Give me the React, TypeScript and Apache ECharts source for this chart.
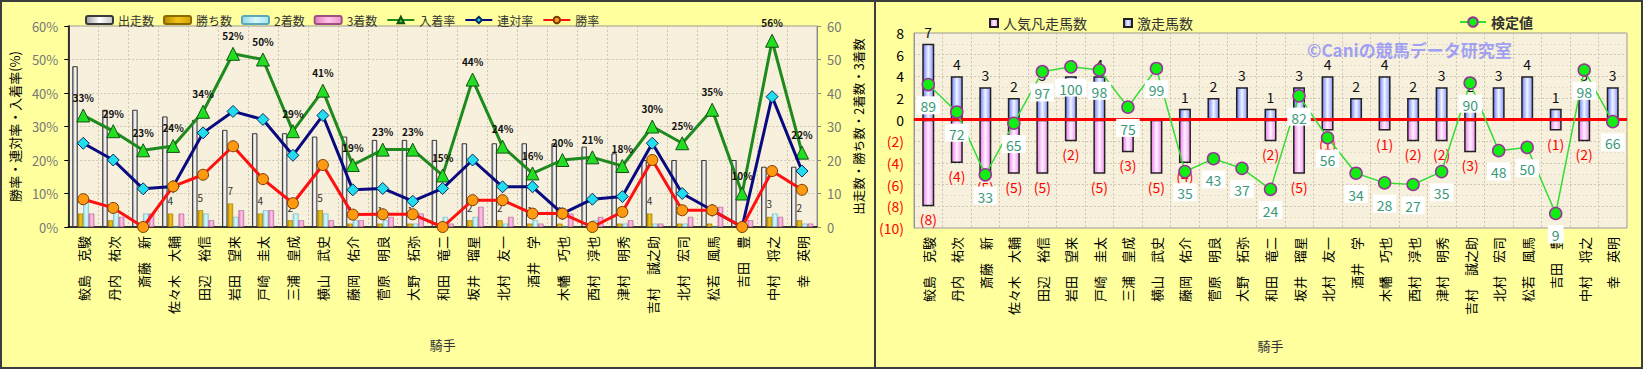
import React, { useEffect, useRef } from 'react';
import * as echarts from 'echarts';

const FONT = "'Noto Sans CJK JP', 'Noto Sans', sans-serif";

const jockeys = ['鮫島　克駿', '丹内　祐次', '斎藤　新', '佐々木　大輔', '田辺　裕信', '岩田　望来', '戸崎　圭太', '三浦　皇成', '横山　武史', '藤岡　佑介', '菅原　明良', '大野　拓弥', '和田　竜二', '坂井　瑠星', '北村　友一', '酒井　学', '木幡　巧也', '西村　淳也', '津村　明秀', '吉村　誠之助', '北村　宏司', '松若　風馬', '吉田　豊', '中村　将之', '幸　英明'];

// left chart
const runs = [48, 35, 35, 33, 32, 29, 28, 28, 27, 27, 26, 26, 26, 25, 25, 25, 25, 24, 22, 20, 20, 20, 20, 18, 18];
const wins = [4, 2, 0, 4, 5, 7, 4, 2, 5, 1, 1, 1, 0, 2, 2, 1, 1, 0, 1, 4, 1, 1, 0, 3, 2];
const seconds = [8, 5, 4, 0, 4, 3, 5, 4, 4, 2, 2, 1, 3, 3, 1, 2, 0, 2, 1, 1, 1, 0, 0, 4, 1];
const thirds = [4, 3, 4, 4, 2, 5, 5, 2, 2, 2, 3, 4, 1, 6, 3, 1, 4, 3, 2, 1, 3, 6, 2, 3, 1];
const placeRate = [33.3, 28.6, 22.9, 24.2, 34.4, 51.7, 50.0, 28.6, 40.7, 18.5, 23.1, 23.1, 15.4, 44.0, 24.0, 16.0, 20.0, 20.8, 18.2, 30.0, 25.0, 35.0, 10.0, 55.6, 22.2];
const quinellaRate = [25.0, 20.0, 11.4, 12.1, 28.1, 34.5, 32.1, 21.4, 33.3, 11.1, 11.5, 7.7, 11.5, 20.0, 12.0, 12.0, 4.0, 8.3, 9.1, 25.0, 10.0, 5.0, 0, 38.9, 16.7];
const winRate = [8.3, 5.7, 0, 12.1, 15.6, 24.1, 14.3, 7.1, 18.5, 3.7, 3.8, 3.8, 0, 8.0, 8.0, 4.0, 4.0, 0, 4.5, 20.0, 5.0, 5.0, 0, 16.7, 11.1];

// right chart
const gekisou = [7, 4, 3, 2, 3, 4, 4, 0, 0, 1, 2, 3, 1, 3, 4, 2, 4, 2, 3, 2, 3, 4, 1, 3, 3];
const bonsou = [-8, -4, -5, -5, -5, -2, -5, -3, -5, -4, 0, 0, -2, -5, -1, 0, -1, -2, -2, -3, 0, 0, -1, -2, 0];
const kentei = [89, 72, 33, 65, 97, 100, 98, 75, 99, 35, 43, 37, 24, 82, 56, 34, 28, 27, 35, 90, 48, 50, 9, 98, 66];

const grad = (a: string, b: string, c: string) =>
  new echarts.graphic.LinearGradient(0, 0, 1, 0, [
    { offset: 0, color: a },
    { offset: 0.5, color: b },
    { offset: 1, color: c },
  ]);

const gridLine = { show: true, lineStyle: { color: '#CFC6B2', type: [2, 2] as any, width: 1 } };

function leftOption(): any {
  const barCommon = { type: 'bar', yAxisIndex: 1, barWidth: 5.5, barGap: '0%' };
  return {
    animation: false,
    textStyle: { fontFamily: FONT },
    legend: {
      left: 80, top: 9, itemWidth: 27, itemHeight: 8, itemGap: 9,
      textStyle: { fontSize: 12, color: '#333', fontFamily: FONT },
      data: ['出走数', '勝ち数', '2着数', '3着数', '入着率', '連対率', '勝率'],
    },
    grid: { left: 67, right: 59, top: 26, bottom: 142, show: true, backgroundColor: '#F7F0DC', borderColor: '#999', borderWidth: 1 },
    xAxis: {
      type: 'category', data: jockeys,
      axisLine: { lineStyle: { color: '#000', width: 1.5 } },
      axisTick: { show: false },
      axisLabel: { interval: 0, rotate: 90, fontSize: 13, color: '#000', margin: 9, fontFamily: FONT },
      splitLine: gridLine,
      name: '騎手', nameLocation: 'middle', nameGap: 111,
      nameTextStyle: { fontSize: 13, color: '#333', fontFamily: FONT },
    },
    yAxis: [
      {
        type: 'value', min: 0, max: 60, interval: 10,
        axisLabel: { formatter: '{value}%', color: '#777', fontSize: 13, margin: 10 },
        axisLine: { show: true, lineStyle: { color: '#000', width: 1.5 } },
        axisTick: { show: true, length: 4, lineStyle: { color: '#000' } },
        splitLine: gridLine,
        name: '勝率・連対率・入着率(%)', nameLocation: 'middle', nameRotate: 90, nameGap: 46,
        nameTextStyle: { fontSize: 13, color: '#000', fontFamily: FONT },
      },
      {
        type: 'value', min: 0, max: 60, interval: 10, position: 'right',
        axisLabel: { color: '#777', fontSize: 13, margin: 10 },
        axisLine: { show: true, lineStyle: { color: '#888', width: 1 } },
        axisTick: { show: true, length: 4, lineStyle: { color: '#888' } },
        splitLine: { show: false },
        name: '出走数・勝ち数・2着数・3着数', nameLocation: 'middle', nameRotate: 90, nameGap: 31,
        nameTextStyle: { fontSize: 12.5, color: '#000', fontFamily: FONT },
      },
    ],
    series: [
      { ...barCommon, name: '出走数', data: runs, itemStyle: { color: grad('#9C9C9C', '#FFFFFF', '#C4C4C4'), borderColor: '#3A3A3A', borderWidth: 1 } },
      {
        ...barCommon, name: '勝ち数', data: wins,
        itemStyle: { color: grad('#B88A00', '#F2C21A', '#D9A400'), borderColor: '#8A6A00', borderWidth: 0.5 },
        label: { show: true, position: 'top', distance: 8, fontSize: 10, color: '#333', formatter: (p: any) => (p.value ? String(p.value) : '') },
      },
      { ...barCommon, name: '2着数', data: seconds, itemStyle: { color: grad('#8FD8E4', '#D8F8FC', '#A8E6F0'), borderColor: '#5AA8B8', borderWidth: 0.5 } },
      { ...barCommon, name: '3着数', data: thirds, itemStyle: { color: grad('#E07ABA', '#FFC4E6', '#EC96CC'), borderColor: '#A05080', borderWidth: 0.5 } },
      {
        name: '入着率', type: 'line', yAxisIndex: 0, data: placeRate, z: 5,
        symbol: 'triangle', symbolSize: 13,
        lineStyle: { color: '#1E8A1E', width: 3 },
        itemStyle: { color: '#22DD22', borderColor: '#145214', borderWidth: 1 },
        label: { show: true, position: 'top', distance: 6, fontSize: 10, fontWeight: 'bold', color: '#111', formatter: (p: any) => Math.round(p.value) + '%' },
      },
      {
        name: '連対率', type: 'line', yAxisIndex: 0, data: quinellaRate, z: 6,
        symbol: 'diamond', symbolSize: 12,
        lineStyle: { color: '#0A0A80', width: 3 },
        itemStyle: { color: '#22DDEE', borderColor: '#0A2A60', borderWidth: 1 },
      },
      {
        name: '勝率', type: 'line', yAxisIndex: 0, data: winRate, z: 7,
        symbol: 'circle', symbolSize: 11,
        lineStyle: { color: '#FF1010', width: 3 },
        itemStyle: { color: '#FF9A10', borderColor: '#7A3A00', borderWidth: 1 },
      },
    ],
  };
}

function rightOption(): any {
  return {
    animation: false,
    textStyle: { fontFamily: FONT },
    legend: [
      {
        left: 108, top: 11, itemWidth: 8, itemHeight: 8, itemGap: 36, icon: 'rect',
        textStyle: { fontSize: 14, color: '#333', fontFamily: FONT },
        data: ['人気凡走馬数', '激走馬数'],
      },
      {
        left: 578, top: 10, itemWidth: 26, itemHeight: 12,
        textStyle: { fontSize: 14, color: '#333', fontWeight: 'bold', fontFamily: FONT },
        data: ['検定値'],
      },
    ],
    grid: { left: 38, right: 16, top: 33, bottom: 141, show: true, backgroundColor: '#F7F0DC', borderColor: '#999', borderWidth: 1 },
    graphic: [
      {
        type: 'text', left: 431, top: 41, z: 1, silent: true,
        style: { text: '©Caniの競馬データ研究室', fill: '#A0A0F2', font: `bold 17px ${FONT}` },
      },
    ],
    xAxis: {
      type: 'category', data: jockeys,
      axisLine: { lineStyle: { color: '#999' } },
      axisTick: { show: false },
      axisLabel: { interval: 0, rotate: 90, fontSize: 13, color: '#000', margin: 9, fontFamily: FONT },
      splitLine: gridLine,
      name: '騎手', nameLocation: 'middle', nameGap: 111,
      nameTextStyle: { fontSize: 13, color: '#333', fontFamily: FONT },
    },
    yAxis: [
      {
        type: 'value', min: -10, max: 8, interval: 2,
        axisLine: { show: true, lineStyle: { color: '#999' } },
        axisTick: { show: false },
        axisLabel: {
          margin: 10,
          formatter: (v: number) => (v < 0 ? `{r|(${-v})}` : `{b|${v}}`),
          rich: { r: { color: '#FF0000', fontSize: 14, fontFamily: FONT }, b: { color: '#000', fontSize: 14, fontFamily: FONT } },
        },
        splitLine: gridLine,
        minorTick: { show: false, splitNumber: 2 },
        minorSplitLine: { show: true, lineStyle: { color: '#E6DECB', type: [2, 2] as any } },
      },
      { type: 'value', min: 0, max: 121, show: false },
    ],
    series: [
      {
        name: '人気凡走馬数', type: 'bar', data: bonsou, barWidth: 12, barGap: '-100%',
        itemStyle: { color: grad('#EE7AEE', '#FFF2FF', '#F090F0'), borderColor: '#222', borderWidth: 1.5 },
        label: { show: true, position: 'bottom', distance: 6, fontSize: 14, color: '#FF0000', formatter: (p: any) => (p.value ? `(${-p.value})` : '') },
      },
      {
        name: '激走馬数', type: 'bar', data: gekisou, barWidth: 12, barGap: '-100%',
        itemStyle: { color: grad('#6A7CFF', '#F2F5FF', '#8494FF'), borderColor: '#222', borderWidth: 1.5 },
        label: { show: true, position: 'top', distance: 5, fontSize: 14, color: '#111', formatter: (p: any) => (p.value ? String(p.value) : '') },
        markLine: {
          silent: true, symbol: ['none', 'none'], label: { show: false },
          lineStyle: { color: '#FF0000', width: 3, type: 'solid' },
          data: [{ yAxis: 0 }],
        },
      },
      {
        name: '検定値', type: 'line', yAxisIndex: 1, data: kentei, z: 10,
        symbol: 'circle', symbolSize: 12,
        lineStyle: { color: '#33DD33', width: 1.5 },
        itemStyle: { color: '#11EE11', borderColor: '#993399', borderWidth: 1.5 },
        label: {
          show: true, position: 'bottom', distance: 5, fontSize: 14, color: '#3A9978',
          backgroundColor: '#FFFFFF', padding: [3, 4, 1, 4],
        },
      },
    ],
  };
}

export default function App() {
  const leftRef = useRef<HTMLDivElement>(null);
  const rightRef = useRef<HTMLDivElement>(null);

  useEffect(() => {
    document.body.style.margin = '0';
    const l = echarts.init(leftRef.current!, undefined, { renderer: 'svg' });
    const r = echarts.init(rightRef.current!, undefined, { renderer: 'svg' });
    l.setOption(leftOption());
    r.setOption(rightOption());
    return () => {
      l.dispose();
      r.dispose();
    };
  }, []);

  return (
    <div style={{ position: 'relative', width: 1643, height: 369, background: '#FFFF9E', overflow: 'hidden' }}>
      <div ref={leftRef} style={{ position: 'absolute', left: 0, top: 0, width: 876, height: 369 }} />
      <div ref={rightRef} style={{ position: 'absolute', left: 876, top: 0, width: 767, height: 369 }} />
      <div style={{ position: 'absolute', left: 0, top: 0, width: 1643, height: 369, boxSizing: 'border-box', border: '2px solid #3C3C3C', pointerEvents: 'none' }} />
      <div style={{ position: 'absolute', left: 874, top: 0, width: 2, height: 369, background: '#3C3C3C', pointerEvents: 'none' }} />
    </div>
  );
}
